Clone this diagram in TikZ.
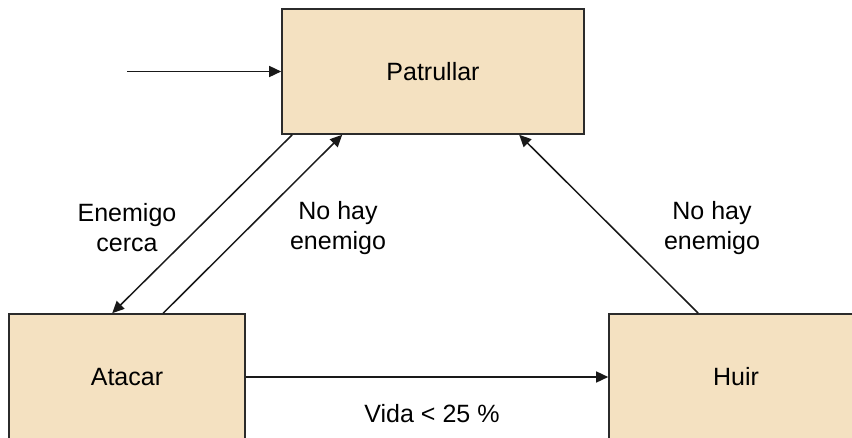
\documentclass[tikz,border=0pt]{standalone}
\usepackage{fontspec}
\setmainfont{Liberation Sans}
\usetikzlibrary{arrows.meta}
\definecolor{boxfill}{HTML}{F4E1C1}
\definecolor{boxline}{HTML}{2B2B2B}
\begin{document}
\begin{tikzpicture}[x=1pt,y=-1pt,
  state/.style={draw=boxline,line width=1.6pt,fill=boxfill,rectangle,inner sep=0pt,
    font=\fontsize{25}{30}\selectfont},
  arr/.style={line width=1.5pt,draw=black!90,-{Triangle[length=12pt,width=11pt]}},
  lbl/.style={font=\fontsize{25}{30}\selectfont,align=center,inner sep=0pt}]
\useasboundingbox (0,0) rectangle (852,437);
\begin{scope}
\clip (0,0) rectangle (852,437);
\node[state,minimum width=302pt,minimum height=125pt] (pat) at (433,71.5) {Patrullar};
\node[state,minimum width=236pt,minimum height=126pt] (ata) at (127,377) {Atacar};
\node[state,minimum width=254pt,minimum height=126pt] (hui) at (736,377) {Huir};
\end{scope}
\coordinate (start) at (127,71.5);
\draw[arr] (start) -- (pat.west);
\draw[arr] ([xshift=11pt]pat.south west) -- ([xshift=104pt]ata.north west);
\draw[arr] ([xshift=155pt]ata.north west) -- ([xshift=61pt]pat.south west);
\draw[arr] ([xshift=90pt]hui.north west) -- ([xshift=238pt]pat.south west);
\draw[arr] (ata.east) -- (hui.west);
\node[lbl] (l1) at (127,228) {Enemigo\\cerca};
\node[lbl] (l2) at (338,228) {No hay\\enemigo};
\node[lbl] (l3) at (712,228) {No hay\\enemigo};
\node[lbl] (l4) at (432,414) {Vida < 25 \%};
\end{tikzpicture}
\end{document}
